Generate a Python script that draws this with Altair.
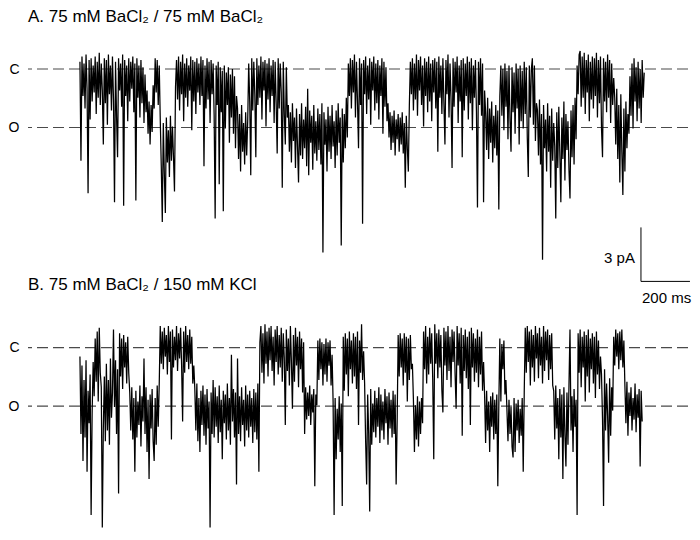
import altair as alt
import pandas as pd

FONT = "Liberation Sans"

DT_MS = 4.15

trace_a_pA = [
    # closed stretch with brief openings
    0.4, -5.1, 0.7, -1.5, 0.3, -2.2, 0.8, -1.1, -6.9, 0.5,
    -2.8, 0.6, -1.8, 0.2, -1.3, 0.7, -2.5, 0.4, -1.6, 0.9,
    -2.0, 0.3, -1.2, -4.2, 0.6, -1.9, 0.5, -3.1, 0.8, -1.4,
    0.2, -2.3, 0.7, -1.7, -7.4, 0.4, -2.6, -4.9, 0.6, -1.2,
    0.3, -2.1, 0.8, -7.6, 0.5, -1.5, 0.2, -2.9, 0.6, -1.8,
    0.4, -1.1, 0.7, -2.4, 0.3, -7.3, 0.6, -1.6, 0.2, -2.7,
    0.5, -1.9, 0.1, -3.0, -0.3, -2.4,
    -1.2, -3.6, -1.8, -4.2, -2.0, -3.5, -0.9, -2.2,
    0.6, -1.3, 0.5, -2.0, 0.2,
    -2.8, -5.4, -8.5, -3.0, -5.8, -8.0, -2.7, -5.2, -3.4, -6.0, -2.6, -5.1, -3.2, -4.9, -6.8,
    -1.0, 0.5, -1.7, 0.7, -2.3, 0.4, -1.4, 0.8, -2.9, 0.3,
    -1.6, 0.6, -2.1, 0.2, -1.2, 0.7, -3.4, 0.5, -1.8, 0.4,
    -2.5, 0.6, -1.3, 0.3, -2.0, 0.7, -1.5, 0.5, -5.4, 0.2,
    -2.2, 0.6, -1.7, 0.4, -3.0, 0.5, -1.4, 0.3, -2.6, -8.3,
    0.2, -2.0, 0.4, -6.4,
    0.1, -2.4, -0.1, -7.9, 0.2, -3.3, -0.2, -2.0, 0.1, -4.1, -0.3, -2.7, 0.0, -3.6, -0.4, -4.4, -1.5,
    -2.2, -5.0, -2.5, -5.7, -2.0, -4.6, -3.0, -5.3, -2.4, -4.8, -2.9,
    0.3, -1.8, -5.9, 0.6, -2.3, 0.4, -1.4, -4.9, 0.6, -2.0,
    0.2, -1.6, 0.7, -2.8, 0.4, -1.2, 0.5, -3.2, 0.3, -1.7,
    0.6, -2.4, 0.2, -1.5, 0.5, -3.0, 0.4, -1.9, -4.7, 0.6,
    -2.2, 0.3, -1.3, -6.6, 0.4, -2.5, -4.2, 0.1, -2.7,
    # open stretch
    -2.0, -4.6, -2.4, -5.2, -1.9, -4.0, -2.7, -5.5, -2.2, -4.3,
    -6.3, -2.5, -4.8, -1.9, -5.0, -2.8, -4.4, -2.1, -5.4, -1.1,
    -5.9, -2.3, -4.1, -2.6, -5.6, -2.0, -4.7, -2.9, -5.1, -2.2,
    -4.5, -2.5, -5.3, -1.9, -10.2, -2.4, -4.2, -2.8, -5.7, -2.1,
    -4.6, -2.6, -5.0, -2.0, -4.3, -2.9, -5.5, -2.3, -4.8, -1.9,
    -4.1, -2.7, -9.8, -2.2, -5.2, -2.5, -4.4, -1.6, -3.8,
    0.3, -1.5, 0.6, -2.2, 0.5, -1.3, 0.8, -2.7, 0.4, -1.8,
    -4.4, 0.6, -2.0, 0.3, -8.6, 0.5, -1.4, 0.7, -2.5, 0.2,
    -1.7, 0.6, -3.1, 0.4, -1.2, 0.7, -2.3, 0.3, -1.9, 0.5,
    -2.8, 0.2, -1.5, 0.6, -3.6, 0.4, -2.1, 0.1, -2.9,
    -1.9, -3.8, -2.4, -4.5, -2.6, -4.1, -2.3, -4.8, -2.8, -3.9,
    -2.5, -4.6, -2.7, -4.2, -2.4, -4.7, -3.0, -6.6, -2.6, -4.4, -5.7, -2.0,
    0.4, -1.4, 0.6, -2.3, 0.3, -1.7, 0.8, -2.6, 0.5, -1.2,
    0.7, -2.0, 0.2, -3.2, 0.6, -1.5, 0.4, -2.4, 0.7, -1.8,
    0.3, -2.9, 0.5, -1.3, 0.6, -2.2, 0.4, -4.6, 0.7, -1.6,
    0.2, -2.5, 0.6, -1.9, -4.2, 0.5, -1.4, 0.8, -2.7, 0.3,
    -1.7, -5.5, 0.6, -2.1, 0.4, -1.3, 0.7, -3.0, 0.2, -1.8,
    0.5, -4.9, 0.6, -2.3, 0.3, -1.5, 0.7, -2.8, 0.4, -1.9,
    0.6, -3.4, 0.2, -1.6, 0.5, -2.4, -7.7, 0.4, -2.0, 0.6,
    -2.6, 0.3, -7.4, -1.2,
    -2.4, -4.5, -1.6, -5.0, -2.2, -4.1, -1.8, -5.2, -2.6, -4.4, -2.0, -4.8, -2.3, -7.8, -1.5,
    0.2, -2.6, 0.0, -3.4, 0.3, -2.1, -0.1, -3.9, 0.2, -2.8,
    -4.6, 0.1, -2.4, -0.2, -3.6, 0.3, -2.2, 0.0, -4.2, 0.2,
    -2.9, -0.1, -3.3, 0.4, -2.5, 0.1, -3.8, -6.0, 0.2, -2.7,
    0.0, 0.6, -3.1, 0.2, -4.0, -1.9,
    -2.3, -4.8, -1.7, -5.3, -2.5, -10.6, -2.0, -4.4, -2.8, -5.7,
    -1.9, -4.6, -2.6, -6.6, -2.2, -5.1, -3.0, -4.3, -8.3, -2.4,
    -5.5, -2.1, -4.7, -7.4, -2.7, -5.0, -1.8, -6.2, -2.5, -4.5,
    -2.9, -5.6, -7.2, -2.3, -4.9, -2.0, -5.3, -1.6, -3.9,
    0.2, -1.4, 0.8, 1.0, -2.1, 0.7, -1.6, 0.9, -2.5, 0.5,
    -1.3, 0.8, -2.9, 0.4, -1.7, 0.7, -2.2, 0.6, -1.5, 0.9,
    -2.7, 0.5, -1.9, 0.7, -3.3, -4.9, 0.6, -1.8, 0.4, -2.4,
    0.8, -1.6, 0.5, -3.0, 0.3, -2.0, -0.5,
    -1.6, -4.2, -1.1, -5.0, -2.0, -6.3, -1.4, -4.6, -7.0, -2.2, -5.7, -1.8, -4.4, -2.5, -3.6,
    -0.4, -2.6, 0.3, -3.3, 0.6, -1.8, 0.1, -2.9, 0.4, -2.2, 0.0, -3.0, 0.5, -1.6, -0.2,
]

trace_b_pA = [
    -0.5, -4.8, -1.0, -6.3, -1.8, -5.0, -0.7, -6.9, -2.4, -4.2, -1.5, -9.3, -3.6,
    -0.8, -2.7, 0.5, -1.9, 0.9, -3.0, 1.1, -1.4,
    -2.2, -10.0, -4.5, -1.6,
    -5.2, -0.9, -4.6, -1.8, -5.4, -0.6, -3.9, -2.5, 1.0, -3.3, -0.7, -4.8, -1.2, -8.1,
    0.8, -1.6, 0.5, -2.3, 0.7, -1.1, 0.3, -2.0, 0.6, -1.4,
    -2.5, -4.6, -2.2, -5.1, -2.8, -6.9, -2.4, -5.0, -3.0, -4.3,
    -2.1, -5.5, -2.7, -4.1, -0.6, -4.8, -2.2, -5.8, -2.9, -7.3,
    -2.6, -4.5, -2.3, -5.2, -6.3, -2.8, -5.4, -2.1, -4.4, -2.0,
    1.2, -0.9, 0.9, -1.2, 1.1, -0.5, 0.7, -1.5, 1.2, -0.8,
    0.9, -5.1, 1.0, -1.1, 0.6, -0.7, 1.2, -1.3, 0.8, -0.6,
    1.1, -1.0, -4.1, 0.9, -1.4, 1.2, -0.8, 0.7, -1.2, 1.0,
    -0.9, 0.6, -2.0, -1.0,
    -2.3, -4.6, -2.0, -5.2, -2.8, -5.8, -2.4, -4.3, -2.1, -4.9,
    -2.6, -5.4, -2.3, -4.5, -3.0, -10.0, -2.5, -4.8, -1.8, -5.0,
    -2.2, -4.4, -2.7, -5.3, -2.1, -4.7, -2.9, -6.2, -2.4, -4.2,
    -2.6, -5.1, -2.0, -4.6, -2.8, -5.4, -0.4, -4.1, -2.3, -5.0,
    -2.5, -7.6, -0.6, -4.8, -2.7, -5.2, -2.2, -4.3, -2.9, -5.5,
    -2.1, -4.6, -2.6, -5.0, -2.4, -4.4, -2.8, -5.3, -2.3, -4.7,
    -2.5, -5.1, -2.0, -6.9,
    0.3, 1.2, -1.4, 0.8, -2.0, 1.3, -0.9, 0.9, -1.6, 1.1,
    -0.7, 1.2, -1.3, 0.6, -2.1, 1.0, -0.8, 1.2, -1.5, 0.7,
    -1.1, 1.1, -1.9, 0.8, -0.6, -4.3, 1.0, -1.3, 0.5, -2.1,
    1.2, -0.8, -3.4, 0.7, -1.9, 1.1, -1.0, 0.6, -2.2, 0.9,
    -1.2, 0.5, -2.5, 0.3, -4.8,
    -2.2, -4.0, -2.5, -3.8, -2.1, -4.3, -2.6, -3.6, -2.3, -7.7, -2.6, -3.2,
    0.4, -1.8, 0.5, -1.2, 0.3, -2.1, 0.2, -1.5, 0.5, -1.9, 0.3, -1.0, 0.4, -2.1, -0.4,
    -3.0, -9.3, -2.8, -6.2, -3.4, -5.1, -2.7, -5.8, -3.1, -8.8,
    0.6, -2.4, 0.8, -1.5, 0.5, -2.7, 0.9, -1.2, 0.4, -2.0,
    0.8, -1.6, 0.6, -2.3, 0.9, -4.3, 0.4, -1.4, 1.3, -1.8, -0.2,
    -2.0, -5.2, -7.6, -2.6, -4.8, -9.1, -2.3, -5.4, -3.1, -4.7,
    -2.4, -5.0, -2.8, -4.4, -2.2, -5.3, -2.6, -4.6, -3.0, -5.1,
    -2.3, -4.2, -2.7, -5.4, -2.5, -4.5, -2.9, -5.0, -2.4, -4.8,
    -2.6, -7.6, -4.1,
    0.7, -1.6, 0.8, -1.1, 0.5, -2.1, 0.8, -1.4, 0.6, -3.0, 0.5, -1.8, 0.7, -1.2, -0.9,
    -2.9, -5.8, -3.2, -5.1, -2.7, -5.5, -3.0, -4.8, -2.8, -4.2,
    0.9, -1.2, 1.2, -2.0, 0.6, -1.5, 1.1, -0.9, 0.8, -1.8,
    -6.2, 1.3, -0.9, 0.8, -1.7, 1.0, -1.1, 0.7, -2.4, -3.6,
    1.1, -1.0, 0.9, -1.8, 1.2, -1.3, 0.6, -2.2, 1.0, -0.8,
    0.9, -1.5, -3.4, 1.2, -1.0, 0.8, -2.0, 1.1, -4.9, 0.7,
    -1.3, 1.0, -1.7, 0.6, -2.3, 0.9, -4.3, 1.1, -1.1, 0.8,
    -1.9, 0.5, -1.4, 1.0, -2.2, 0.6, -1.5, 0.9, -2.4, -0.8,
    -2.6, -5.3, -2.4, -4.6, -3.0, -5.8, -2.7, -4.4, -2.5, -5.1, -2.9, -4.8, -2.6, -7.7, -3.2,
    0.5, -3.0, 0.2, -1.2, 0.4, -2.6, -1.8,
    -3.5, -5.2, -2.9, -4.8, -3.3, -5.5, -6.1, -2.8, -5.8, -3.1,
    -4.6, -2.9, -5.3, -3.4, -4.9, -2.8, -6.9, -2.5,
    1.1, -1.4, 1.2, -0.8, 0.9, -2.1, 1.0, -1.1, 0.7, -1.9,
    1.2, -0.6, 0.8, -1.7, 1.1, -1.0, 0.6, -2.0, 1.2, -1.3,
    0.9, -0.7, 1.0, -1.8, 0.7, -1.2, 0.8, -2.1,
    -2.4, -5.1, -2.1, -4.5, -2.8, -6.2, -2.3, -5.0, -2.6, -7.3,
    -2.2, -4.8, -6.6, -2.5, -5.4, -2.1, 1.0, -4.6, -2.7, -5.8,
    -2.3, -4.4, -2.9, -9.3,
    0.8, -1.4, 1.0, -2.2, 0.6, -1.1, 0.9, -3.0, 0.7, -1.6,
    1.0, -2.5, 0.5, -1.2, 0.8, -2.0, 0.6, -2.8, 0.9, -1.5, 0.4, -2.3, -0.5,
    -1.5, -4.0, -8.8, -1.2, -4.6, -2.0, -3.8, -6.4, -1.7, -4.9, -2.2, -3.5,
    0.6, -1.0, 1.0, -0.5, 0.8, -1.2, 0.9, -0.7, 1.0, -1.1, 0.4,
    -2.1, -4.2, -1.9, -4.9, -2.5, -3.8, -2.2, -4.6, -2.8, -4.0,
    -2.0, -4.7, -2.6, -3.9, -2.3, -6.6, -2.4, -4.1,
]

# ---- current levels (closed / open) ----
level_names = ["C", "O"]
level_values = [0.0, -3.25]

# ---- panel titles ----
title_a = "A. 75 mM BaCl₂ / 75 mM BaCl₂"
title_b = "B. 75 mM BaCl₂ / 150 mM KCl"

# ---- scale bar (data units) ----
bar_t0 = 2290.0
bar_ms = 200.0
bar_pA = 3.0
bar_bottom_pA = -11.8
bar_labels = ["3 pA", "200 ms"]

T_DOMAIN = [-212, 2482]
PLOT_W = 660
PX_PER_PA = 18.0
Y_DOMAIN_A = [-11.8, 1.5]
Y_DOMAIN_B = [-10.0, 1.5]


def trace_df(vals):
    return pd.DataFrame({"t": [i * DT_MS for i in range(len(vals))], "pA": vals})


levels_df = pd.DataFrame({"pA": level_values, "name": level_names})
label_expr = (
    f"datum.value == {level_values[0]} ? '{level_names[0]}' : '{level_names[1]}'"
)


def x_enc():
    return alt.X("t:Q", scale=alt.Scale(domain=T_DOMAIN, nice=False, zero=False), axis=None)


def y_enc(domain):
    return alt.Y(
        "pA:Q",
        scale=alt.Scale(domain=domain, nice=False, zero=False),
        axis=alt.Axis(
            values=level_values,
            labelExpr=label_expr,
            ticks=False,
            domain=False,
            grid=False,
            title=None,
            labelPadding=9,
            labelFontSize=14,
            labelFont=FONT,
            labelColor="#000",
        ),
    )


def panel(vals, domain, title, offset, with_bar):
    y = y_enc(domain)
    x = x_enc()
    rules = alt.Chart(levels_df).mark_rule(
        color="#4a4a4a", strokeDash=[11, 5], strokeWidth=1.2
    ).encode(y=y)
    line = alt.Chart(trace_df(vals)).mark_line(
        color="#000", strokeWidth=1.25, strokeJoin="bevel"
    ).encode(x=x, y=y)
    layers = [rules, line]
    if with_bar:
        vbar = alt.Chart(
            pd.DataFrame({"t": [bar_t0], "pA": [bar_bottom_pA + bar_pA], "pA2": [bar_bottom_pA]})
        ).mark_rule(color="#000", strokeWidth=1).encode(x=x, y=y, y2=alt.Y2("pA2:Q"))
        hbar = alt.Chart(
            pd.DataFrame({"t": [bar_t0], "t2": [bar_t0 + bar_ms], "pA": [bar_bottom_pA]})
        ).mark_rule(color="#000", strokeWidth=1).encode(x=x, x2=alt.X2("t2:Q"), y=y)
        t_pa = alt.Chart(
            pd.DataFrame({"t": [bar_t0], "pA": [bar_bottom_pA + bar_pA / 2], "label": [bar_labels[0]]})
        ).mark_text(align="right", baseline="middle", dx=-6, dy=4, fontSize=15, font=FONT, color="#000").encode(
            x=x, y=y, text="label:N"
        )
        t_ms = alt.Chart(
            pd.DataFrame({"t": [bar_t0], "pA": [bar_bottom_pA], "label": [bar_labels[1]]})
        ).mark_text(align="left", baseline="top", dx=1, dy=10, fontSize=15, font=FONT, color="#000").encode(
            x=x, y=y, text="label:N"
        )
        layers += [vbar, hbar, t_pa, t_ms]
    height = (domain[1] - domain[0]) * PX_PER_PA
    return alt.layer(*layers).properties(
        width=PLOT_W,
        height=height,
        title=alt.Title(
            text=title,
            anchor="start",
            frame="group",
            fontSize=17,
            fontWeight="normal",
            font=FONT,
            color="#000",
            offset=offset,
        ),
    )


pa = panel(trace_a_pA, Y_DOMAIN_A, title_a, 16, True)
pb = panel(trace_b_pA, Y_DOMAIN_B, title_b, 27, False)

chart = (
    alt.vconcat(pa, pb, spacing=38.6, bounds="flush")
    .resolve_scale(x="independent", y="independent")
    .properties(padding=0)
    .configure_view(stroke=None)
)

chart.save("out.html", embed_options={"renderer": "svg", "actions": False})
